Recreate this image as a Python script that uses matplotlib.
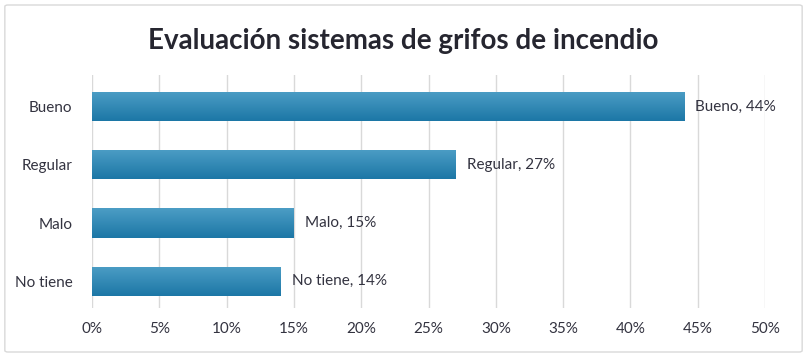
import matplotlib
matplotlib.use("Agg")
import matplotlib.pyplot as plt
from matplotlib.patches import FancyBboxPatch
import numpy as np

plt.rcParams['font.family'] = ['Lato', 'DejaVu Sans']

# Data
categories = ["No tiene", "Malo", "Regular", "Bueno"]
values = [14, 15, 27, 44]
xticks = [0, 5, 10, 15, 20, 25, 30, 35, 40, 45, 50]

text_color = "#333340"

fig = plt.figure(figsize=(8.07, 3.57), dpi=100)
ax = fig.add_axes([0.114, 0.137, 0.834, 0.653])

# light border around the whole chart
fig.patches.append(FancyBboxPatch((0.006, 0.014), 0.988, 0.972, boxstyle="round,pad=0,rounding_size=0.004",
                                  transform=fig.transFigure, fill=False, edgecolor="#d9d9d9", linewidth=1))

bars = ax.barh(categories, values, height=0.5, color="#2b86b4", zorder=2)

# vertical gradient on each bar
grad = np.linspace(0, 1, 64).reshape(-1, 1)
cmap = matplotlib.colors.LinearSegmentedColormap.from_list("bar", ["#4c9dc5", "#1c77a6"])
for b in bars:
    x0, y0 = b.get_x(), b.get_y()
    w, h = b.get_width(), b.get_height()
    im = ax.imshow(grad, cmap=cmap, aspect="auto", extent=(x0, x0 + w, y0, y0 + h),
                   origin="upper", zorder=3)
    im.set_clip_path(b)
    b.set_alpha(0)

for cat, v in zip(categories, values):
    ax.annotate(f"{cat}, {v}%", xy=(v, cat), xytext=(8, 0), textcoords="offset points",
                va="center", ha="left", fontsize=11, color=text_color)

ax.set_xlim(0, 50)
ax.set_ylim(-0.46, 3.54)
ax.set_xticks(xticks)
ax.set_xticklabels([f"{t}%" for t in xticks], fontsize=11, color=text_color)
ax.tick_params(axis="y", labelsize=11, labelcolor=text_color, length=0, pad=14)
ax.tick_params(axis="x", length=0, pad=10)
ax.grid(axis="x", color="#d9d9d9", linewidth=1, zorder=0)
ax.set_axisbelow(True)
for s in ax.spines.values():
    s.set_visible(False)

fig.text(0.5, 0.885, "Evaluación sistemas de grifos de incendio", ha="center", va="center",
         fontsize=20, fontweight="bold", color="#262630")

fig.savefig("out.png", dpi=100)
